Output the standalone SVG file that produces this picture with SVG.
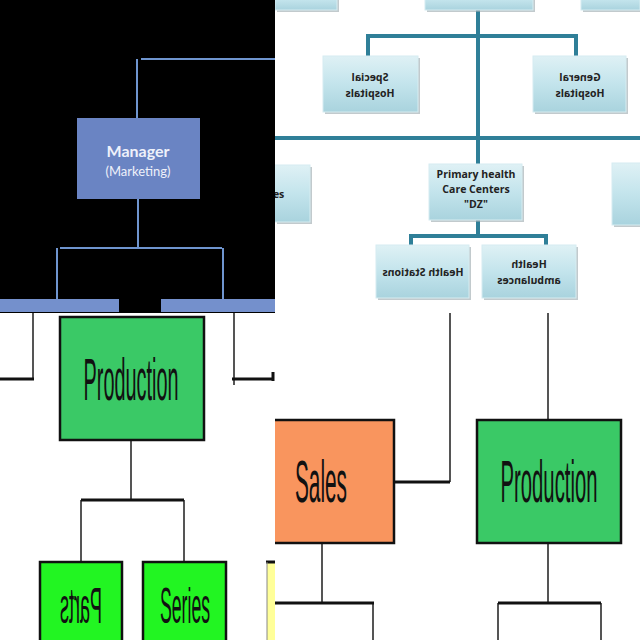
<svg xmlns="http://www.w3.org/2000/svg" width="640" height="640" viewBox="0 0 640 640">
<defs>
<linearGradient id="bev" x1="0" y1="0" x2="0" y2="1">
<stop offset="0" stop-color="#dff1f5"/>
<stop offset="0.5" stop-color="#c3e4ec"/>
<stop offset="1" stop-color="#a9d3de"/>
</linearGradient>
<clipPath id="qtr"><rect x="275" y="0" width="365" height="313"/></clipPath>
<style>
.teal{stroke:#2f7f98;stroke-width:4;fill:none}
.blu{stroke:#6f95cf;stroke-width:2;fill:none}
.blk{stroke:#111;stroke-width:3;fill:none}
.gry{stroke:#555;stroke-width:2;fill:none}
.tb{fill:url(#bev);stroke:#d6ecf1;stroke-width:1}
.sh{fill:#9aa7ab;opacity:0.6}
.tt{font-family:"Open Sans","DejaVu Sans",sans-serif;font-weight:bold;font-size:10.5px;fill:#222;text-anchor:middle}
.big{font-family:"Liberation Sans",Arial,sans-serif;fill:#111;text-anchor:middle}
.mg{font-family:Lato,"Open Sans",sans-serif;fill:#eef1fa;text-anchor:middle}
</style>
</defs>
<rect x="0" y="0" width="640" height="640" fill="#fff"/>
<!-- top-left quadrant -->
<rect x="0" y="0" width="275" height="313" fill="#000"/>
<rect x="0" y="299" width="119" height="13" fill="#7490cc"/>
<rect x="161" y="299" width="114" height="13" fill="#7490cc"/>
<g id="connectors">
<g class="blu">
<path d="M141 59H275"/>
<path d="M137 59V118"/>
<path d="M138 199V248"/>
<path d="M60 248H222"/>
<path d="M57 248V299M223 248V299"/>
</g>
<g class="teal" clip-path="url(#qtr)">
<path d="M478 10V165"/>
<path d="M368 56V36H576V56"/>
<path d="M275 138H640"/>
<path d="M478 220V236M411 246V236H546V246"/>
</g>
<g class="gry">
<path d="M33 313V380M234 313V385"/>
<path d="M131 440V500M81 562V500M184 562V500"/>
<path d="M450 313V482M548 313V420"/>
<path d="M322 543V603M373 603V640"/>
<path d="M548 543V603M498 603V640M601 603V640"/>
</g>
<g class="blk">
<path d="M0 379H34M232 379H273M273 372V381"/>
<path d="M81 500H184"/>
<path d="M395 482H450"/>
<path d="M275 603H374"/>
<path d="M498 603H601"/>
</g>
</g>
<g id="manager">
<rect x="77" y="118" width="123" height="81" fill="#6a84c3"/>
<text class="mg" x="138" y="157" font-size="16" font-weight="bold">Manager</text>
<text class="mg" x="138" y="176" font-size="13">(Marketing)</text>
</g>
<!-- top-right quadrant boxes -->
<g clip-path="url(#qtr)">
<g id="top-left-box"><rect class="sh" x="277" y="-8" width="62" height="20"/><rect class="tb" x="275" y="-10" width="62" height="20"/></g>
<g id="top-mid-box"><rect class="sh" x="427" y="-8" width="108" height="20"/><rect class="tb" x="425" y="-10" width="108" height="20"/></g>
<g id="top-right-box"><rect class="sh" x="583" y="-8" width="59" height="20"/><rect class="tb" x="581" y="-10" width="59" height="20"/></g>
<g id="special">
<rect class="sh" x="325" y="58" width="95" height="56"/>
<rect class="tb" x="323" y="56" width="95" height="56"/>
<g transform="translate(740 0) scale(-1 1)"><text class="tt" x="370" y="81">Special</text><text class="tt" x="370" y="97">Hospitals</text></g>
</g>
<g id="general">
<rect class="sh" x="535" y="58" width="93" height="56"/>
<rect class="tb" x="533" y="56" width="93" height="56"/>
<g transform="translate(1160 0) scale(-1 1)"><text class="tt" x="580" y="81">General</text><text class="tt" x="580" y="97">Hospitals</text></g>
</g>
<g id="left-partial">
<rect class="sh" x="277" y="167" width="35" height="57"/>
<rect class="tb" x="260" y="165" width="50" height="57"/>
<text class="tt" x="277" y="198" text-anchor="start">ies</text>
</g>
<g id="right-partial">
<rect class="sh" x="614" y="165" width="30" height="62"/>
<rect class="tb" x="612" y="163" width="40" height="62"/>
</g>
<g id="primary">
<rect class="sh" x="431" y="166" width="93" height="56"/>
<rect class="tb" x="429" y="164" width="93" height="56"/>
<text class="tt" x="476" y="178">Primary health</text>
<text class="tt" x="476" y="193">Care Centers</text>
<text class="tt" x="476" y="208">"DZ"</text>
</g>
<g id="stations">
<rect class="sh" x="378" y="247" width="93" height="53"/>
<rect class="tb" x="376" y="245" width="93" height="53"/>
<g transform="translate(846 0) scale(-1 1)"><text class="tt" x="423" y="276">Health Stations</text></g>
</g>
<g id="ambulances">
<rect class="sh" x="484" y="247" width="94" height="53"/>
<rect class="tb" x="482" y="245" width="94" height="53"/>
<g transform="translate(1058 0) scale(-1 1)"><text class="tt" x="529" y="268">Health</text><text class="tt" x="529" y="284">ambulances</text></g>
</g>
</g>
<!-- bottom quadrants -->
<g id="production-left">
<rect x="60" y="317" width="144" height="123" fill="#3ac966" stroke="#111" stroke-width="2.5"/>
<text class="big" transform="translate(131 400) scale(0.331 1)" x="0" y="0" font-size="60" textLength="287" lengthAdjust="spacingAndGlyphs">Production</text>
</g>
<g id="parts">
<rect x="40" y="562" width="82" height="90" fill="#22f522" stroke="#111" stroke-width="2.5"/>
<text class="big" transform="translate(81 623) scale(-0.36 1)" x="0" y="0" font-size="50" textLength="117" lengthAdjust="spacingAndGlyphs">Parts</text>
</g>
<g id="series">
<rect x="143" y="562" width="83" height="90" fill="#22f522" stroke="#111" stroke-width="2.5"/>
<text class="big" transform="translate(185 623) scale(0.353 1)" x="0" y="0" font-size="50" textLength="142" lengthAdjust="spacingAndGlyphs">Series</text>
</g>
<g id="yellow-partial">
<rect x="267" y="562" width="8" height="90" fill="#ffff99"/>
<path d="M266 562H275" stroke="#111" stroke-width="3"/>
<path d="M267 562V640" stroke="#888" stroke-width="1"/>
</g>
<g id="sales">
<rect x="275" y="420" width="119" height="123" fill="#f9955e"/>
<path d="M275 420H394V543H275" fill="none" stroke="#111" stroke-width="2.5"/>
<text class="big" transform="translate(321 502) scale(0.347 1)" x="0" y="0" font-size="60" textLength="150" lengthAdjust="spacingAndGlyphs">Sales</text>
</g>
<g id="production-right">
<rect x="477" y="420" width="144" height="123" fill="#3ac966" stroke="#111" stroke-width="2.5"/>
<text class="big" transform="translate(549 502) scale(0.338 1)" x="0" y="0" font-size="60" textLength="287" lengthAdjust="spacingAndGlyphs">Production</text>
</g>
</svg>
